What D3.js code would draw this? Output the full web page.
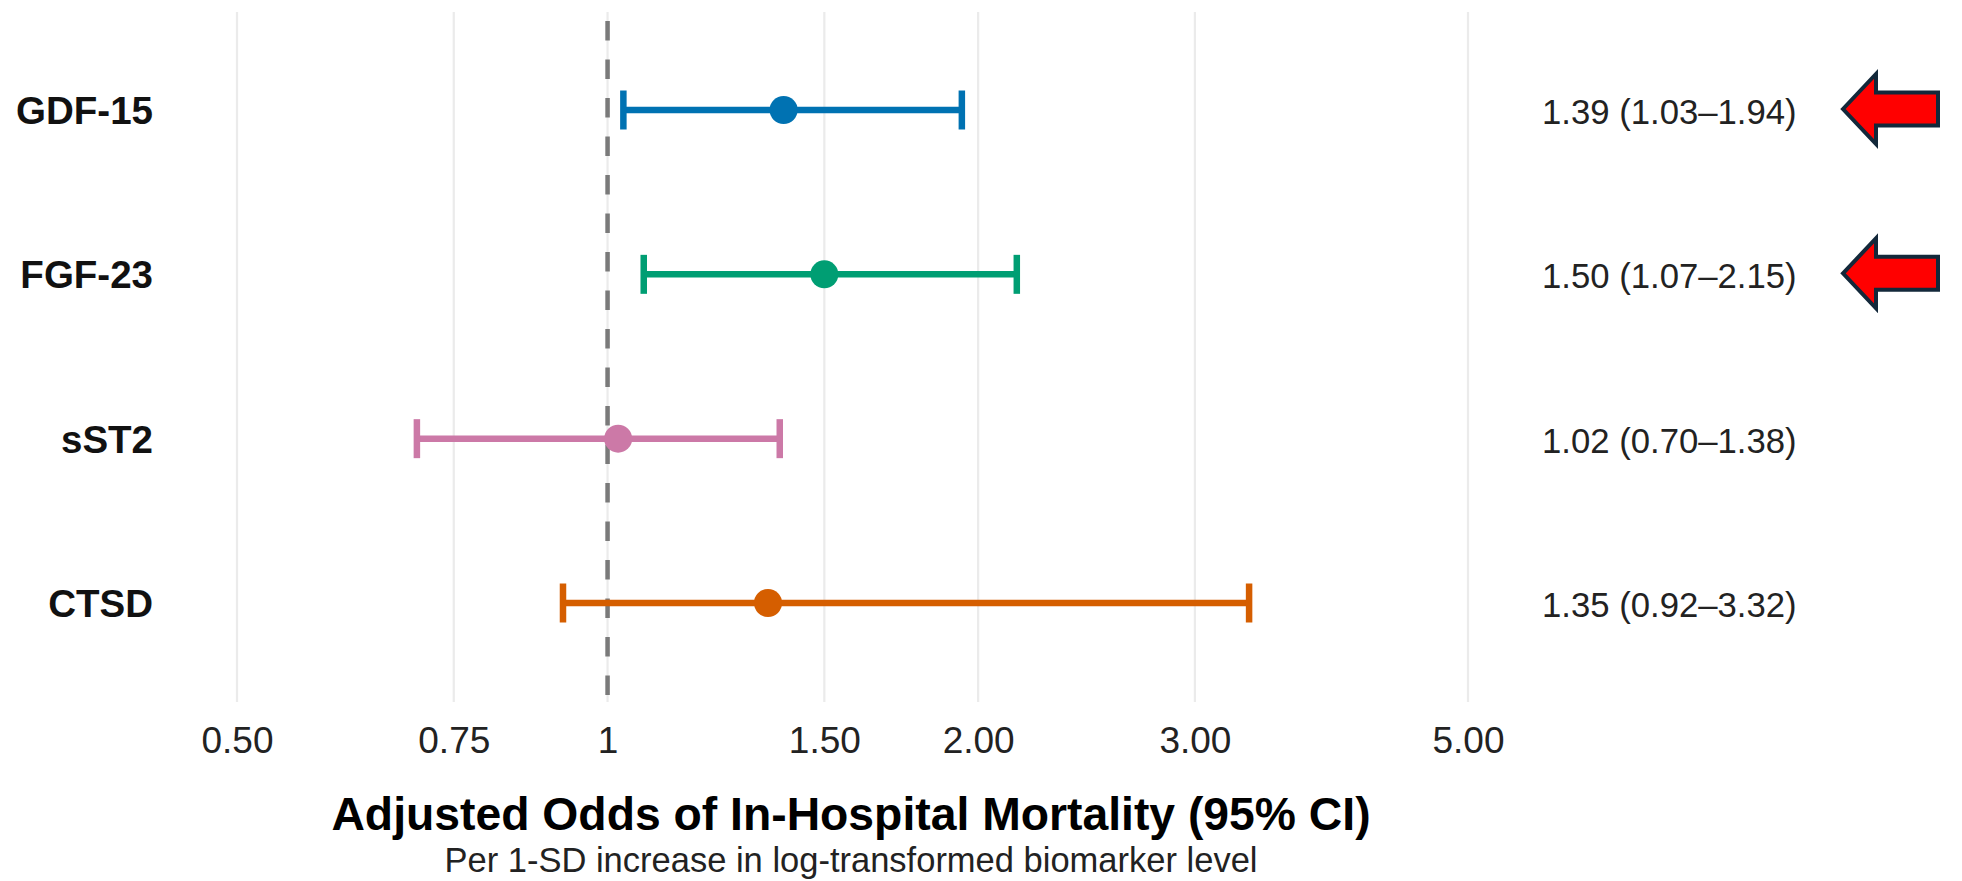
<!DOCTYPE html>
<html>
<head>
<meta charset="utf-8">
<script src="https://cdn.jsdelivr.net/npm/d3@7"></script>
<style>
  html, body { margin: 0; padding: 0; background: #ffffff; }
  svg { display: block; font-family: "Liberation Sans", Arial, sans-serif; }
</style>
</head>
<body>
<svg id="chart" width="1962" height="881"></svg>
<script>
// ---- data ----
const categories = ["GDF-15", "FGF-23", "sST2", "CTSD"];
const estimates  = [1.39, 1.50, 1.02, 1.35];
const lowerCI    = [1.03, 1.07, 0.70, 0.92];
const upperCI    = [1.94, 2.15, 1.38, 3.32];
const seriesColors = ["#0072B2", "#009E73", "#CC79A7", "#D55E00"];
const tickValues = [0.5, 0.75, 1, 1.5, 2, 3, 5];
const tickLabels = ["0.50", "0.75", "1", "1.50", "2.00", "3.00", "5.00"];
const highlighted = ["GDF-15", "FGF-23"];
const xTitle = "Adjusted Odds of In-Hospital Mortality (95% CI)";
const xSubtitle = "Per 1-SD increase in log-transformed biomarker level";

const rows = categories.map((c, i) => ({
  cat: c, est: estimates[i], lo: lowerCI[i], hi: upperCI[i], color: seriesColors[i],
  label: `${estimates[i].toFixed(2)} (${lowerCI[i].toFixed(2)}\u2013${upperCI[i].toFixed(2)})`
}));

const svg = d3.select("#chart");

const x = d3.scaleLog().domain([0.5, 5]).range([237, 1468]);
const y = d3.scalePoint().domain(categories).range([110, 603]);

const panelTop = 12, panelBottom = 702;

// gridlines
svg.append("g").selectAll("line").data(tickValues).join("line")
  .attr("x1", d => x(d)).attr("x2", d => x(d))
  .attr("y1", panelTop).attr("y2", panelBottom)
  .attr("stroke", "#ebebeb").attr("stroke-width", 2.2);

// reference line at 1
svg.append("line")
  .attr("x1", x(1)).attr("x2", x(1))
  .attr("y1", panelTop + 9).attr("y2", panelBottom + 4)
  .attr("stroke", "#7a7a7a").attr("stroke-width", 4.5)
  .attr("stroke-dasharray", "19.5 19");

// x axis tick labels via d3 axis
const xAxis = d3.axisBottom(x).tickValues(tickValues)
  .tickFormat((d, i) => tickLabels[i]).tickSize(0).tickPadding(0);
const gx = svg.append("g").attr("transform", "translate(0,727)").call(xAxis);
gx.select(".domain").remove();
gx.selectAll("text")
  .attr("font-family", "Liberation Sans, Arial, sans-serif")
  .attr("font-size", 37).attr("fill", "#222222").attr("dy", "0.71em");

// error bars
const g = svg.append("g");
const capH = 19.5, lw = 6.5;
rows.forEach(r => {
  const yy = y(r.cat);
  g.append("line").attr("x1", x(r.lo)).attr("x2", x(r.hi))
    .attr("y1", yy).attr("y2", yy).attr("stroke", r.color).attr("stroke-width", lw);
  [r.lo, r.hi].forEach(v => {
    g.append("line").attr("x1", x(v)).attr("x2", x(v))
      .attr("y1", yy - capH).attr("y2", yy + capH)
      .attr("stroke", r.color).attr("stroke-width", lw);
  });
  g.append("circle").attr("cx", x(r.est)).attr("cy", yy).attr("r", 14).attr("fill", r.color);
});

// category labels
svg.append("g").selectAll("text").data(rows).join("text")
  .attr("x", 153).attr("y", d => y(d.cat) + 14)
  .attr("text-anchor", "end").attr("font-weight", "bold").attr("font-size", 38.5)
  .attr("fill", "#111111").text(d => d.cat);

// right labels
svg.append("g").selectAll("text").data(rows).join("text")
  .attr("x", 1542).attr("y", d => y(d.cat) + 14)
  .attr("text-anchor", "start").attr("font-size", 34.7)
  .attr("fill", "#222222").text(d => d.label);

// arrows
const arrowPath = cy => {
  const tip = 1843, back = 1876, end = 1938, hh = 35, sh = 16.5;
  return `M${tip},${cy} L${back},${cy - hh} L${back},${cy - sh} L${end},${cy - sh} L${end},${cy + sh} L${back},${cy + sh} L${back},${cy + hh} Z`;
};
svg.append("g").selectAll("path").data(highlighted).join("path")
  .attr("d", d => arrowPath(y(d) - 1))
  .attr("fill", "#ff0000").attr("stroke", "#13283a").attr("stroke-width", 4)
  .attr("stroke-linejoin", "miter");

// titles
svg.append("text").attr("x", 851).attr("y", 830).attr("text-anchor", "middle")
  .attr("font-weight", "bold").attr("font-size", 46.3).attr("fill", "#000000").text(xTitle);
svg.append("text").attr("x", 851).attr("y", 872).attr("text-anchor", "middle")
  .attr("font-size", 34.5).attr("fill", "#222222").text(xSubtitle);
</script>
</body>
</html>
